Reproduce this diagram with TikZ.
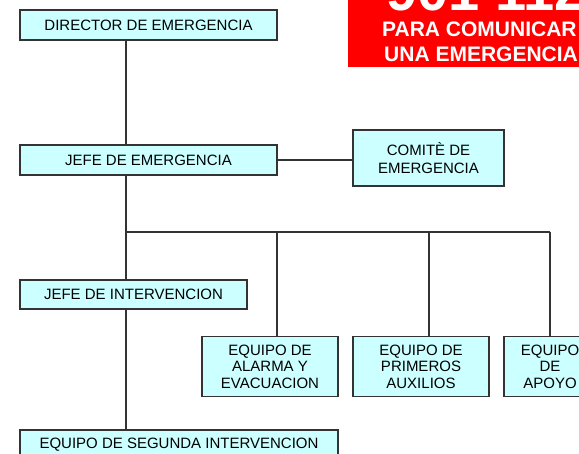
\documentclass[tikz,border=0pt]{standalone}
\usepackage{fontspec}
\setmainfont{Liberation Sans}
\usetikzlibrary{positioning}
\definecolor{boxfill}{HTML}{CCFFFF}
\definecolor{boxline}{HTML}{333333}
\tikzstyle{cargo} = [rectangle, draw=boxline, fill=boxfill, line width=1.2pt, align=center, inner sep=2pt, font=\fontsize{15}{16.5}\selectfont]
\tikzstyle{link} = [draw=boxline, line width=1.2pt]
\tikzstyle{aviso} = [text=white, font=\bfseries\fontsize{21}{22}\selectfont, anchor=base west, inner sep=0pt]

\begin{document}
\begin{tikzpicture}[x=1pt, y=-1pt]

    \clip (0, 0) rectangle (579, 454);
    \fill[white] (0, 0) rectangle (579, 454);

    % red notice, top right
    \fill[red] (348, -5) rectangle (600, 67);
    \node[aviso, font=\bfseries\fontsize{56}{56}\selectfont] (numero) at (386, 10.5) {901 112};
    \node[aviso] (linea1) at (382, 37) {PARA COMUNICAR};
    \node[aviso] (linea2) at (384, 62) {UNA EMERGENCIA};

    % boxes
    \node[cargo, minimum width=257pt, minimum height=30pt] (director) at (148.5, 25) {DIRECTOR DE EMERGENCIA};
    \node[cargo, minimum width=257pt, minimum height=30pt] (jefe) at (148.5, 160) {JEFE DE EMERGENCIA};
    \node[cargo, minimum width=151pt, minimum height=56pt, font=\fontsize{15}{18}\selectfont] (comite) at (428.5, 158) {COMITÈ DE\\EMERGENCIA};
    \node[cargo, minimum width=227pt, minimum height=29pt] (intervencion) at (133.5, 294.5) {JEFE DE INTERVENCION};
    \node[cargo, minimum width=136pt, minimum height=60pt] (alarma) at (270, 366.5) {EQUIPO DE\\ALARMA Y\\EVACUACION};
    \node[cargo, minimum width=136pt, minimum height=60pt] (auxilios) at (421, 366.5) {EQUIPO DE\\PRIMEROS\\AUXILIOS};
    \node[cargo, minimum width=92pt, minimum height=60pt] (apoyo) at (550, 366.5) {EQUIPO\\DE\\APOYO};
    \node[cargo, minimum width=318pt, minimum height=30pt] (segunda) at (179, 445) {EQUIPO DE SEGUNDA INTERVENCION};

    % connectors
    \coordinate (tronco) at (126, 232);
    \coordinate (bajada1) at (277, 232);
    \coordinate (bajada2) at (429, 232);
    \coordinate (bajada3) at (550, 232);

    \draw[link] (director.south -| tronco) -- (jefe.north -| tronco);
    \draw[link] (jefe.east) -- (comite.west |- jefe.east);
    \draw[link] (jefe.south -| tronco) -- (intervencion.north -| tronco);
    \draw[link] (intervencion.south -| tronco) -- (segunda.north -| tronco);
    \draw[link] (tronco) -- (bajada3);
    \draw[link] (bajada1) -- (bajada1 |- alarma.north);
    \draw[link] (bajada2) -- (bajada2 |- auxilios.north);
    \draw[link] (bajada3) -- (apoyo.north);

\end{tikzpicture}
\end{document}
